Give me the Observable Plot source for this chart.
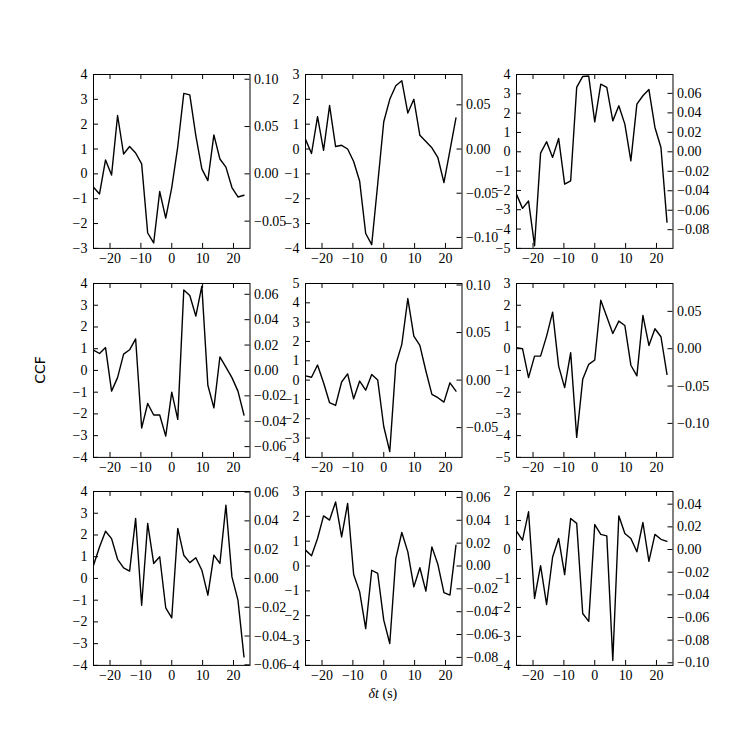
<!DOCTYPE html>
<html>
<head>
<meta charset="utf-8">
<script src="https://cdn.jsdelivr.net/npm/d3@7"></script>
<script src="https://cdn.jsdelivr.net/npm/@observablehq/plot@0.6"></script>
<style>
  html, body { margin: 0; padding: 0; background: white; }
  #fig { position: relative; width: 747px; height: 739px; background: white; overflow: hidden; }
  #fig svg { position: absolute; }
  .lab { position: absolute; color: black; white-space: nowrap; }
</style>
</head>
<body>
<div id="fig"></div>
<script>
// time lags (s)
const lags = [-25.35, -23.4, -21.45, -19.5, -17.55, -15.6, -13.65, -11.7, -9.75, -7.8, -5.85, -3.9, -1.95,
              0, 1.95, 3.9, 5.85, 7.8, 9.75, 11.7, 13.65, 15.6, 17.55, 19.5, 21.45, 23.4];
const xDomain = [-25.35, 25.35];
const xTicks = [-20, -10, 0, 10, 20];

// CCF series, one per panel (row-major)
const panel1 = [-0.54, -0.81, 0.56, -0.05, 2.35, 0.8, 1.1, 0.84, 0.4, -2.38, -2.78, -0.71, -1.78, -0.55, 1.1, 3.24, 3.18, 1.54, 0.2, -0.27, 1.57, 0.6, 0.27, -0.55, -0.93, -0.86];
const panel2 = [0.39, -0.18, 1.3, -0.05, 1.75, 0.1, 0.15, 0.0, -0.5, -1.3, -3.4, -3.85, -1.4, 1.1, 2.0, 2.55, 2.75, 1.45, 2.0, 0.55, 0.3, 0.05, -0.35, -1.35, -0.05, 1.25];
const panel3 = [-2.2, -2.93, -2.55, -4.86, -0.07, 0.52, -0.29, 0.69, -1.67, -1.5, 3.33, 3.9, 3.92, 1.55, 3.5, 3.33, 1.6, 2.38, 1.43, -0.47, 2.47, 2.9, 3.22, 1.26, 0.22, -3.64];
const panel4 = [0.93, 0.78, 1.05, -0.95, -0.33, 0.75, 0.95, 1.45, -2.65, -1.52, -2.05, -2.05, -3.02, -1.0, -2.25, 3.7, 3.45, 2.5, 3.88, -0.68, -1.72, 0.62, 0.15, -0.33, -0.95, -2.05];
const panel5 = [0.22, 0.15, 0.78, -0.14, -1.17, -1.31, -0.1, 0.32, -0.97, -0.05, -0.52, 0.29, 0.0, -2.4, -3.7, 0.81, 1.85, 4.22, 2.28, 1.8, 0.47, -0.74, -0.91, -1.14, -0.14, -0.57];
const panel6 = [0.05, 0.0, -1.33, -0.34, -0.34, 0.58, 1.68, -0.8, -1.79, -0.18, -4.08, -1.41, -0.72, -0.52, 2.23, 1.47, 0.7, 1.27, 1.07, -0.76, -1.25, 1.53, 0.15, 0.92, 0.55, -1.18];
const panel7 = [0.61, 1.45, 2.17, 1.83, 0.88, 0.49, 0.34, 2.76, -1.23, 2.53, 0.69, 1.0, -1.35, -1.81, 2.3, 1.07, 0.73, 0.95, 0.38, -0.77, 1.07, 0.69, 3.37, 0.07, -1.0, -3.61];
const panel8 = [0.64, 0.41, 1.11, 2.02, 1.85, 2.58, 1.17, 2.52, -0.34, -1.04, -2.52, -0.17, -0.3, -2.18, -3.12, 0.3, 1.35, 0.57, -0.84, -0.07, -1.01, 0.77, 0.06, -1.07, -1.17, 0.84];
const panel9 = [0.63, 0.32, 1.3, -1.69, -0.56, -1.9, -0.26, 0.38, -0.87, 1.07, 0.9, -2.21, -2.48, 0.86, 0.52, 0.47, -3.83, 1.16, 0.55, 0.38, -0.08, 0.93, -0.41, 0.52, 0.35, 0.28];
const series = [panel1, panel2, panel3, panel4, panel5, panel6, panel7, panel8, panel9];

// left axis limits
const leftDomains = [[-3, 4], [-4, 3], [-5, 4], [-4, 4], [-4, 5], [-5, 3], [-4, 4], [-4, 3], [-4, 2]];
// right (twin) axis limits
const rightDomains = [[-0.0788, 0.105], [-0.1124, 0.0843], [-0.0992, 0.0794], [-0.0685, 0.0685], [-0.0813, 0.1016],
                      [-0.1455, 0.0873], [-0.0604, 0.0604], [-0.087, 0.0652], [-0.1023, 0.0512]];
// right axis tick labels
const rightTicks = [
  [-0.05, 0.0, 0.05, 0.10],
  [-0.10, -0.05, 0.0, 0.05],
  [-0.08, -0.06, -0.04, -0.02, 0.0, 0.02, 0.04, 0.06],
  [-0.06, -0.04, -0.02, 0.0, 0.02, 0.04, 0.06],
  [-0.05, 0.0, 0.05, 0.10],
  [-0.10, -0.05, 0.0, 0.05],
  [-0.06, -0.04, -0.02, 0.0, 0.02, 0.04, 0.06],
  [-0.08, -0.06, -0.04, -0.02, 0.0, 0.02, 0.04, 0.06],
  [-0.10, -0.08, -0.06, -0.04, -0.02, 0.0, 0.02, 0.04]
];

// layout
const colLefts = [93.4, 304.7, 516.0];
const rowTops = [73.9, 282.6, 491.3];
const PW = 156.5, PH = 173.9;
const ML = 45, MR = 50, MT = 10, MB = 30;
const TICK = 5;
const FONT = "'Liberation Serif', 'DejaVu Serif', serif";

const fmtInt = d => (d < 0 ? "\u2212" : "") + Math.abs(d);
const fmt2 = d => (d < -1e-9 ? "\u2212" : "") + Math.abs(d).toFixed(2);
const intTicks = ([a, b]) => d3.range(Math.ceil(a), Math.floor(b) + 1);

const fig = document.getElementById("fig");
const style = {fontFamily: FONT, fontSize: "14px", color: "black", background: "transparent", overflow: "visible"};

series.forEach((vals, i) => {
  const r = Math.floor(i / 3), c = i % 3;
  const data = lags.map((t, j) => ({t, v: vals[j]}));
  const lt = intTicks(leftDomains[i]);
  const common = {width: PW + ML + MR, height: PH + MT + MB, marginLeft: ML, marginRight: MR, marginTop: MT, marginBottom: MB, style};

  const main = Plot.plot({
    ...common,
    x: {domain: xDomain},
    y: {domain: leftDomains[i]},
    marks: [
      Plot.line(data, {x: "t", y: "v", stroke: "black", strokeWidth: 1.4, clip: true}),
      Plot.axisY(lt, {anchor: "left", tickSize: 0, tickPadding: 6, tickFormat: fmtInt, label: null}),
      Plot.tickY(lt, {y: d => d, stroke: "black", insetRight: PW - TICK}),
      Plot.axisX(xTicks, {anchor: "bottom", tickSize: 0, tickPadding: 5, tickFormat: fmtInt, label: null}),
      Plot.tickX(xTicks, {x: d => d, stroke: "black", insetTop: PH - TICK}),
      Plot.tickX(xTicks, {x: d => d, stroke: "black", insetBottom: PH - TICK}),
      Plot.frame({stroke: "black", strokeWidth: 1})
    ]
  });
  main.style.left = (colLefts[c] - ML) + "px";
  main.style.top = (rowTops[r] - MT) + "px";
  fig.appendChild(main);

  const twin = Plot.plot({
    ...common,
    y: {domain: rightDomains[i]},
    marks: [
      Plot.axisY(rightTicks[i], {anchor: "right", tickSize: 0, tickPadding: 4, tickFormat: fmt2, label: null}),
      Plot.tickY(rightTicks[i], {y: d => d, stroke: "black", insetLeft: PW - TICK})
    ]
  });
  twin.style.left = (colLefts[c] - ML) + "px";
  twin.style.top = (rowTops[r] - MT) + "px";
  fig.appendChild(twin);
});

// axis titles
const yl = document.createElement("div");
yl.className = "lab";
yl.textContent = "CCF";
yl.style.cssText += "left:40px; top:370px; transform: translate(-50%,-50%) rotate(-90deg); font-family:'DejaVu Sans', sans-serif; font-size:14px;";
fig.appendChild(yl);

const xl = document.createElement("div");
xl.className = "lab";
xl.innerHTML = "<span style='font-style:italic'>\u03b4t</span> (s)";
xl.style.cssText += "left:" + (colLefts[1] + PW / 2) + "px; top:694px; transform: translate(-50%,-50%); font-family:" + FONT + "; font-size:14px;";
fig.appendChild(xl);
</script>
</body>
</html>
